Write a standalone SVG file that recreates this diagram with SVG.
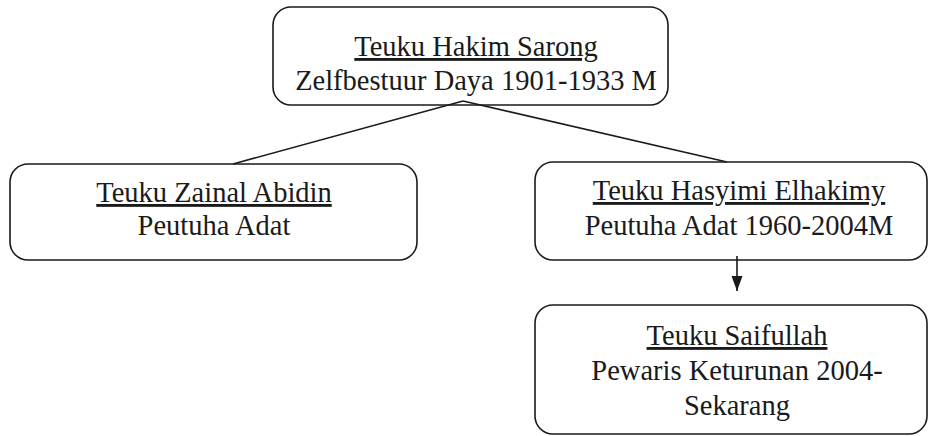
<svg xmlns="http://www.w3.org/2000/svg" width="929" height="436" viewBox="0 0 929 436">
<defs>
<style>
.box{fill:#fff;stroke:#1a1a1a;stroke-width:1.6}
.t{font-family:"Times New Roman","Liberation Serif",Tinos,"DejaVu Serif",serif;font-size:28.5px;fill:#1a1a1a;text-anchor:middle}
.u{text-decoration:underline}
.c{stroke:#1a1a1a;stroke-width:1.6;fill:none}
</style>
<marker id="ah" markerWidth="16" markerHeight="12" refX="15" refY="6" orient="auto" markerUnits="userSpaceOnUse">
<path d="M0,0.5 L15,6 L0,11.5 Z" fill="#1a1a1a"/>
</marker>
</defs>
<rect width="929" height="436" fill="#fff"/>
<g id="n1">
<rect class="box" x="273" y="7" width="395" height="98" rx="18"/>
<text class="t u" x="476" y="56">Teuku Hakim Sarong</text>
<text class="t" x="476" y="90">Zelfbestuur Daya 1901-1933 M</text>
</g>
<g id="n2">
<rect class="box" x="10" y="164" width="407" height="96" rx="18"/>
<text class="t u" x="214" y="202">Teuku Zainal Abidin</text>
<text class="t" x="214" y="235">Peutuha Adat</text>
</g>
<g id="n3">
<rect class="box" x="535" y="162" width="392" height="98" rx="18"/>
<text class="t u" x="739" y="200">Teuku Hasyimi Elhakimy</text>
<text class="t" x="739" y="235">Peutuha Adat 1960-2004M</text>
</g>
<g id="n4">
<rect class="box" x="535" y="305" width="392" height="129" rx="18"/>
<text class="t u" x="737" y="345">Teuku Saifullah</text>
<text class="t" x="737" y="380">Pewaris Keturunan 2004-</text>
<text class="t" x="737" y="415">Sekarang</text>
</g>
<g id="connectors">
<line class="c" x1="463" y1="101" x2="233" y2="164"/>
<line class="c" x1="463" y1="101" x2="727" y2="162"/>
<line class="c" x1="737" y1="256" x2="737" y2="291" marker-end="url(#ah)"/>
</g>
</svg>
